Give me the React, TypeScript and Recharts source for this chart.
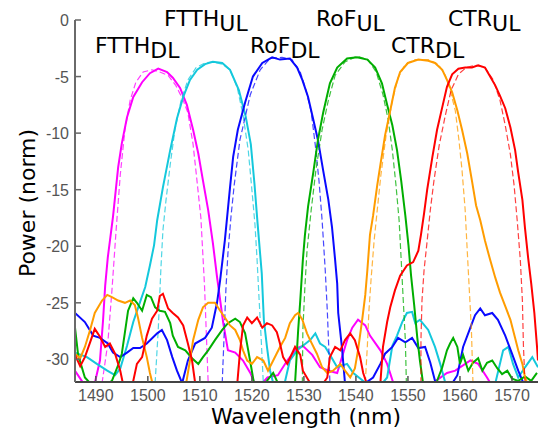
import { LineChart, Line, XAxis, YAxis } from 'recharts';

type Pt = [number, number];

const wavelengthTicks = [1490, 1500, 1510, 1520, 1530, 1540, 1550, 1560, 1570];
const powerTicks = [0, -5, -10, -15, -20, -25, -30];

// FTTH downlink (magenta)
const ftthDlMeas: Pt[] = [
  [1486, -31], [1487.3, -31.9], [1488.5, -33], [1489.8, -32.1], [1490.8, -30.1], [1491.4, -26.5],
  [1491.8, -23.5], [1492.3, -21.0], [1493.3, -17.4], [1494.3, -13.0], [1495.0, -10.9], [1496.0, -8.6],
  [1497.2, -6.8], [1498.9, -5.5], [1500.4, -4.7], [1502.0, -4.3], [1503.7, -4.6], [1504.8, -5.1],
  [1506.2, -6.0], [1507.5, -7.5], [1508.7, -9.7], [1509.7, -11.8], [1510.6, -14.2], [1511.6, -16.8],
  [1512.5, -19.7], [1513.3, -22.7], [1514.5, -26.8], [1515.4, -29.2], [1516.8, -29.4], [1518.3, -30.1],
  [1519.7, -31.2], [1521, -32.6], [1523, -31.6], [1525, -31.4], [1526.8, -30.1], [1528.7, -29.0],
  [1529.8, -28.8], [1531.6, -29.6], [1533.1, -30.7], [1534.7, -31.0], [1536.4, -31.2], [1538.3, -28.3],
  [1539.3, -27.2], [1540.4, -26.5], [1541.8, -27.0], [1542.7, -27.9], [1544.7, -29.2], [1546, -30.4],
  [1547.2, -32.1], [1552, -33], [1557.5, -31.2], [1559.1, -31], [1562, -30.1], [1563.5, -30.4],
  [1565.2, -31.6], [1567, -33], [1575, -33],
];
const ftthDlSim: Pt[] = [
  [1491.2, -32.1], [1492.3, -28.6], [1493.1, -23.9], [1493.9, -18.6], [1494.7, -13.7], [1495.6, -9.7],
  [1496.6, -7.1], [1497.7, -5.5], [1499.1, -4.6], [1500.8, -4.4], [1502.3, -4.6], [1503.9, -4.9],
  [1505.4, -5.8], [1506.8, -7.1], [1507.7, -8.2], [1508.7, -11.0], [1509.4, -14.0], [1510.2, -17.5],
  [1510.9, -23.5], [1511.6, -32.1],
];

// FTTH uplink (cyan)
const ftthUlMeas: Pt[] = [
  [1486, -29.4], [1488.3, -29.8], [1490.2, -30.4], [1492.2, -31], [1493.7, -31.4], [1494.7, -30.8],
  [1496, -28.8], [1497.2, -26.7], [1498.3, -25.2], [1499.5, -23.6], [1500.4, -21.7], [1501.2, -19.9],
  [1501.8, -17.7], [1502.9, -14.8], [1504.3, -11.5], [1505.6, -8.7], [1506.8, -6.8], [1508.1, -5.3],
  [1509.5, -4.4], [1511, -3.9], [1512.5, -3.7], [1514.3, -3.8], [1515.8, -4.4], [1517.5, -6.2],
  [1518.8, -8.5], [1519.8, -11.0], [1520.5, -14.5], [1521.1, -18.0], [1521.9, -22.4], [1522.3, -26.5],
  [1522.9, -28.9], [1523.5, -31], [1524.1, -32.1], [1525.5, -33], [1526.3, -32.1], [1527.3, -30.1],
  [1528.7, -29.2], [1529.8, -28.8], [1531.2, -28.3], [1532.2, -27.7], [1533.1, -28.6], [1534.1, -28.9],
  [1535, -29.6], [1536.4, -30.7], [1538.3, -30.4], [1539.5, -31.2], [1541.4, -31.9], [1543.5, -33],
  [1546, -31.6], [1547, -28.8], [1547.9, -27.9], [1548.9, -26.7], [1549.8, -25.9], [1550.8, -25.8],
  [1551.4, -26.8], [1552.3, -26.5], [1553.9, -27.4], [1555.2, -28.9], [1556.2, -30.4], [1557.2, -32.1],
  [1562, -33], [1566.8, -32.1], [1568.3, -29.2], [1569.3, -28.9], [1570.2, -30.4], [1571.2, -31.6],
  [1572.5, -30.7], [1573.9, -29.8], [1575, -30.7],
];
const ftthUlSim: Pt[] = [
  [1501.4, -32.1], [1502, -27.4], [1502.5, -22.1], [1502.9, -18.6], [1503.5, -15.9], [1504.3, -12.8],
  [1505.2, -9.7], [1506.4, -7.1], [1507.7, -5.3], [1509.3, -4.2], [1511, -3.8], [1512.5, -3.7],
  [1514.3, -3.9], [1515.8, -4.4], [1517.2, -6], [1518.3, -8.4], [1519.3, -11.5], [1520, -15],
  [1520.6, -18.1], [1521, -21.2], [1521.4, -24.8], [1521.8, -28.3], [1522.2, -32.1],
];

// RoF downlink (blue)
const rofDlMeas: Pt[] = [
  [1486, -25.9], [1487.9, -26.7], [1489.5, -27.9], [1490.8, -28.1], [1492.3, -28.6], [1493.3, -29.4],
  [1494.7, -29.8], [1496, -29.4], [1497.2, -29], [1498.5, -29], [1499.8, -28.6], [1501.8, -27.7],
  [1502.7, -27.4], [1503.7, -28.3], [1504.7, -29.8], [1505.6, -31], [1506.6, -32.1], [1507.7, -30.1],
  [1509.1, -28.6], [1511, -28.1], [1512.3, -27.2], [1513.3, -25], [1513.9, -23], [1514.8, -19.5],
  [1515.8, -14.8], [1516.4, -12.1], [1517.3, -9.7], [1518.7, -7.3], [1520.2, -5], [1522, -3.8],
  [1523.9, -3.3], [1525.4, -3.5], [1527.3, -3.4], [1528.7, -4.2], [1529.7, -5.3], [1530.8, -6.8],
  [1531.8, -8.8], [1532.7, -10.6], [1533.7, -13.3], [1534.7, -15.9], [1535.4, -18.3], [1536, -21.2],
  [1536.4, -23.3], [1536.6, -25.9], [1537.3, -28.9], [1537.9, -32.1], [1540, -33], [1541.8, -32.1],
  [1543.3, -31.6], [1544.7, -30.4], [1545.6, -29.5], [1547, -28.9], [1548.1, -28.1], [1549.5, -28.5],
  [1550.8, -28.1], [1552, -29], [1553.3, -28.9], [1554.3, -30.3], [1555.2, -31.9], [1557.3, -33],
  [1559.5, -31.4], [1560.6, -28.9], [1562, -27.2], [1562.9, -26.1], [1563.9, -25.5], [1564.8, -26.1],
  [1566.2, -25.9], [1567.3, -26.5], [1568.7, -27.9], [1570, -29.5], [1571.2, -31], [1572.2, -32.1],
  [1575, -33],
];
const rofDlSim: Pt[] = [
  [1514.3, -32.1], [1514.7, -27.4], [1515, -23.9], [1515.4, -20.6], [1516, -17.3], [1516.6, -14.6],
  [1517.7, -10.6], [1519.7, -6.6], [1521.6, -4.4], [1523.5, -3.4], [1525.8, -3.3], [1527.7, -3.5],
  [1529.3, -4.6], [1530.4, -6.2], [1531.4, -8.1], [1532.2, -11.1], [1532.9, -14.2], [1533.5, -17.7],
  [1534.1, -22.1], [1534.5, -25.7], [1534.8, -29.2], [1535, -32.1],
];

// RoF uplink (green)
const rofUlMeas: Pt[] = [
  [1486, -27.2], [1486.6, -29.6], [1487.9, -31.6], [1489.3, -32.3], [1491.8, -32.3], [1493.1, -31.9],
  [1494.3, -30.5], [1495, -29.5], [1496.2, -25.7], [1497.2, -24.6], [1497.9, -25], [1498.9, -25.7],
  [1499.8, -24.3], [1500.6, -24.5], [1501.4, -25.4], [1502.3, -25.7], [1503.3, -25.8], [1504.3, -26.8],
  [1504.8, -27.9], [1505.8, -28.9], [1507.2, -29.2], [1508.5, -29.9], [1509.7, -30.4], [1510.6, -29.8],
  [1511.6, -29.2], [1512.9, -28.3], [1514.3, -27.4], [1515.4, -26.8], [1516.8, -26.4], [1517.7, -26.7],
  [1518.7, -27.7], [1519.3, -29.2], [1519.8, -30.5], [1520.4, -32.1], [1521.5, -32.5], [1522.9, -31.9],
  [1524.1, -31.2], [1525, -32.1], [1527, -32.5], [1528.3, -32.1], [1528.9, -27.4], [1529.3, -24.8],
  [1529.8, -21.2], [1530.2, -19], [1530.8, -16.5], [1531.8, -13.5], [1532.7, -10.6], [1533.7, -8.2],
  [1535, -5.6], [1536.4, -4.2], [1538.3, -3.4], [1540.2, -3.3], [1542.2, -3.5], [1543.7, -4.2],
  [1545, -5.6], [1546, -7.5], [1547, -9.3], [1547.9, -11.5], [1548.7, -14.2], [1549.5, -17.3],
  [1550.1, -19.9], [1550.6, -22.6], [1551.2, -25.2], [1551.8, -28.1], [1552.3, -30.1], [1552.9, -32.1],
  [1554.5, -33], [1555.6, -31.9], [1556.6, -30.7], [1557.5, -29.2], [1558.1, -28.6], [1558.7, -28.1],
  [1559.5, -28.9], [1560, -30.4], [1560.6, -29.6], [1561.6, -31], [1562.5, -30.3], [1563.5, -29.9],
  [1564.3, -31], [1565.2, -30.3], [1566.2, -30.1], [1567.2, -30.8], [1568.1, -31.3], [1569.1, -31],
  [1570, -31.7], [1571.2, -31.9], [1572.5, -31.5], [1573.7, -31.9], [1574.8, -31.2],
];
const rofUlSim: Pt[] = [
  [1529.7, -32.1], [1529.8, -27.4], [1530.2, -23.5], [1530.6, -20.4], [1531.4, -16.8], [1532.3, -13.3],
  [1533.5, -9.7], [1534.7, -7.1], [1536, -4.9], [1537.9, -3.7], [1540.2, -3.2], [1542.3, -3.5],
  [1543.9, -4.6], [1545.2, -6.6], [1546.2, -8.8], [1547, -11.5], [1547.7, -14.6], [1548.3, -17.7],
  [1548.7, -21.2], [1549.1, -24.8], [1549.5, -28.3], [1549.7, -32.1],
];

// CTR downlink (orange)
const ctrDlMeas: Pt[] = [
  [1486, -29.5], [1487, -29.9], [1487.9, -28.9], [1488.9, -27.4], [1489.8, -25.9], [1491.2, -24.8],
  [1492.2, -24.3], [1493.1, -24.5], [1494.3, -24.8], [1495.6, -25], [1496.6, -24.8], [1497.5, -25.2],
  [1498.1, -26.3], [1498.9, -28.1], [1499.8, -29.8], [1500.4, -31.2], [1501, -32.3], [1504.3, -33],
  [1507.3, -32.3], [1508.1, -30.1], [1508.7, -28.3], [1509.7, -26.5], [1510.6, -25.4], [1511.6, -25],
  [1512.9, -25], [1513.9, -25.7], [1514.8, -26.3], [1515.8, -27], [1516.8, -27.4], [1517.7, -28.3],
  [1518.3, -29.2], [1519.1, -30.1], [1520, -30.4], [1521, -29.8], [1522.2, -30.1], [1523.1, -31],
  [1524.1, -30.1], [1525.4, -28.9], [1526.4, -28.1], [1527.3, -26.8], [1528.3, -26.1], [1528.9, -25.9],
  [1529.7, -26.5], [1530.6, -27.7], [1531.2, -28.3], [1532.5, -29.5], [1533.5, -30.7], [1534.5, -31.2],
  [1535.6, -31], [1537, -30.4], [1537.9, -31], [1538.9, -31.6], [1539.8, -30.8], [1540.4, -29.2],
  [1541.2, -26.5], [1541.8, -24.3], [1542.2, -22.1], [1542.7, -19], [1543.3, -17.3], [1544.1, -14.6],
  [1544.7, -12.8], [1545.6, -10.2], [1546.6, -8], [1547.5, -6], [1548.5, -4.6], [1550, -3.8],
  [1552, -3.5], [1553.9, -3.6], [1555.2, -3.8], [1556.6, -4.4], [1557.5, -5.3], [1558.5, -6.4],
  [1559.5, -8], [1560.4, -9.7], [1561.4, -11.8], [1562.3, -14.2], [1563.1, -16.4], [1563.9, -17.7],
  [1564.8, -19.5], [1565.8, -21.2], [1566.8, -22.8], [1567.7, -24.1], [1568.7, -25.3], [1569.7, -26.5],
  [1570.6, -28.1], [1571.2, -29.2], [1572, -30.4], [1572.5, -31.6], [1573.1, -32.3], [1575, -33],
];
const ctrDlSim: Pt[] = [
  [1541.8, -32.1], [1542.2, -28.8], [1542.5, -25.7], [1542.9, -23], [1543.5, -19.5], [1544.1, -16.8],
  [1544.8, -13.7], [1545.8, -10.2], [1547, -7.1], [1548.1, -5.1], [1549.5, -3.9], [1551.4, -3.5],
  [1553.9, -3.5], [1555.8, -3.9], [1557.2, -4.9], [1558.1, -6.2], [1559.1, -8], [1559.8, -10.6],
  [1560.4, -13.3], [1561, -16.8], [1561.4, -20.4], [1561.8, -23.9], [1562.2, -27.4], [1562.5, -32.1],
];

// CTR uplink (red)
const ctrUlMeas: Pt[] = [
  [1486, -29.6], [1487, -30.6], [1487.9, -29.8], [1488.9, -28.5], [1489.8, -27.3], [1490.8, -28],
  [1491.8, -28.9], [1492.7, -28.6], [1493.7, -29.5], [1494.7, -31], [1495.2, -32.1], [1496.2, -32.8],
  [1497.2, -31.9], [1497.9, -30.4], [1498.9, -29.8], [1499.8, -27.9], [1500.8, -26.4], [1501.8, -25.7],
  [1502.3, -24.4], [1502.9, -24.2], [1503.9, -25.5], [1504.8, -25.9], [1505.8, -26.3], [1506.8, -27],
  [1507.7, -28.6], [1508.5, -30.1], [1509.1, -32.1], [1513, -33], [1517.2, -32.1], [1517.7, -29.4],
  [1518.3, -27], [1519.1, -26.3], [1520, -26.8], [1521, -26.3], [1522, -27.2], [1522.9, -26.8],
  [1523.9, -27], [1524.8, -27.6], [1525.4, -28.6], [1526, -29.8], [1526.8, -30.4], [1527.7, -29.5],
  [1528.3, -28.9], [1529.3, -29.6], [1529.8, -31], [1531.2, -32.1], [1533, -32.6], [1534.5, -31.6],
  [1535, -29.8], [1536, -28.9], [1537, -29.2], [1537.9, -28.3], [1538.9, -27.7], [1539.8, -28.3],
  [1540.8, -29.8], [1541.4, -31.2], [1542.2, -32.3], [1543.5, -32.8], [1544.7, -32.1], [1545.2, -28.9],
  [1546, -26.7], [1546.6, -25.4], [1547.5, -23.9], [1548.5, -22.6], [1549.8, -21.7], [1551, -21.4],
  [1552, -20.4], [1552.5, -19], [1553.1, -17.1], [1553.7, -15], [1554.7, -12.1], [1555.6, -9.7],
  [1556.6, -7.7], [1557.5, -5.9], [1558.5, -4.8], [1559.7, -4.3], [1561, -4.2], [1562.3, -4.2],
  [1563.5, -4], [1564.8, -4.2], [1565.8, -5], [1566.8, -5.8], [1567.7, -6.7], [1568.7, -7.8],
  [1569.7, -9.5], [1570.6, -11.5], [1571.2, -13.5], [1572, -15.9], [1572.5, -18.4], [1573.1, -21],
  [1573.7, -23.3], [1574.3, -25.9], [1574.8, -28.8], [1575, -30.1],
];
const ctrUlSim: Pt[] = [
  [1552.5, -32.1], [1552.5, -28.3], [1552.7, -24.8], [1553.1, -22.1], [1553.7, -19.5], [1554.3, -16.8],
  [1555, -14.2], [1556, -11.1], [1557.2, -8.4], [1558.3, -6.2], [1559.7, -4.8], [1561.2, -4.2],
  [1562.9, -4], [1564.8, -4.2], [1566.4, -5.3], [1567.7, -7.1], [1568.7, -9.3], [1569.7, -11.9],
  [1570.4, -14.6], [1571, -17.7], [1571.6, -21.2], [1572, -24.8], [1572.2, -28.8], [1572.5, -32.1],
];

const bandNames = ['FTTH', 'FTTH', 'RoF', 'RoF', 'CTR', 'CTR'];
const linkNames = ['DL', 'UL', 'DL', 'UL', 'DL', 'UL'];

const channels = [
  { id: 'ftthDl', color: '#ff00ff', meas: ftthDlMeas, sim: ftthDlSim },
  { id: 'ftthUl', color: '#14c8dc', meas: ftthUlMeas, sim: ftthUlSim },
  { id: 'rofDl', color: '#0a0aff', meas: rofDlMeas, sim: rofDlSim },
  { id: 'rofUl', color: '#00ae00', meas: rofUlMeas, sim: rofUlSim },
  { id: 'ctrDl', color: '#ff9c00', meas: ctrDlMeas, sim: ctrDlSim },
  { id: 'ctrUl', color: '#ff0000', meas: ctrUlMeas, sim: ctrUlSim },
];

const toRows = (pts: Pt[]) => pts.map(([x, y]) => ({ x, y }));

const TICK_FONT = '"Liberation Sans", Arial, sans-serif';
const TITLE_FONT = '"DejaVu Sans", Verdana, sans-serif';

function XTick(props: any) {
  const { x, y, payload } = props;
  return (
    <g>
      <line x1={x} x2={x} y1={y - 7} y2={y - 13} stroke="#555" strokeWidth={1.5} />
      <text x={x} y={y + 12} textAnchor="middle" fill="#555" fontSize={16} fontFamily={TICK_FONT}>
        {payload.value}
      </text>
    </g>
  );
}

function YTick(props: any) {
  const { x, y, payload } = props;
  return (
    <g>
      <line x1={x + 6} x2={x + 12} y1={y} y2={y} stroke="#666" strokeWidth={1.5} />
      <text x={x} y={y + 6} textAnchor="end" fill="#555" fontSize={16} fontFamily={TICK_FONT}>
        {payload.value}
      </text>
    </g>
  );
}

// where each band label sits: [x, baseline]
const labelSpots: [number, number][] = [
  [95, 53], [164, 26], [250, 53], [316, 26], [391, 53], [448, 26],
];

export default function App() {
  return (
    <div style={{ position: 'absolute', left: 0, top: 0, width: 539, height: 434, background: '#fff' }}>
      <LineChart width={539} height={434} margin={{ top: 20, right: 1, bottom: 0, left: 0 }}>
        <XAxis
          type="number"
          dataKey="x"
          domain={[1486, 1575]}
          ticks={wavelengthTicks}
          allowDataOverflow
          height={52}
          tickSize={0}
          tickMargin={7}
          tick={<XTick />}
          axisLine={{ stroke: '#444', strokeWidth: 2 }}
          tickLine={false}
        />
        <YAxis
          type="number"
          dataKey="y"
          domain={[-32, 0]}
          ticks={powerTicks}
          allowDataOverflow
          width={75}
          tickSize={0}
          tickMargin={6}
          tick={<YTick />}
          axisLine={{ stroke: '#6a6a6a', strokeWidth: 2 }}
          tickLine={false}
        />
        {channels.map((c) => [
          <Line
            key={c.id + '-m'}
            data={toRows(c.meas)}
            dataKey="y"
            type="linear"
            stroke={c.color}
            strokeWidth={2}
            dot={false}
            activeDot={false}
            isAnimationActive={false}
          />,
          <Line
            key={c.id + '-s'}
            data={toRows(c.sim)}
            dataKey="y"
            type="linear"
            stroke={c.color}
            strokeWidth={1.2}
            strokeOpacity={0.75}
            strokeDasharray="6 3"
            dot={false}
            activeDot={false}
            isAnimationActive={false}
          />,
        ])}
      </LineChart>
      <svg
        width={539}
        height={434}
        style={{ position: 'absolute', left: 0, top: 0, pointerEvents: 'none' }}
      >
        {bandNames.map((b, i) => (
          <text key={i} x={labelSpots[i][0]} y={labelSpots[i][1]} fontSize={22} fontFamily={TITLE_FONT} fill="#000">
            {b}
            <tspan dy={5}>{linkNames[i]}</tspan>
          </text>
        ))}
        <text x={306} y={424} textAnchor="middle" fontSize={22} fontFamily={TITLE_FONT} fill="#000">
          Wavelength (nm)
        </text>
        <text
          x={35}
          y={203}
          textAnchor="middle"
          fontSize={22}
          fontFamily={TITLE_FONT}
          fill="#000"
          transform="rotate(-90 35 203)"
        >
          Power (norm)
        </text>
      </svg>
    </div>
  );
}
